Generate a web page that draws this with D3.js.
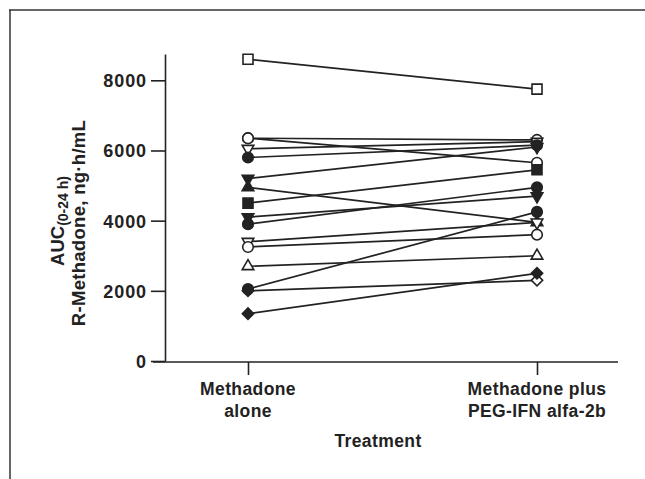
<!DOCTYPE html>
<html>
<head>
<meta charset="utf-8">
<script src="https://cdn.jsdelivr.net/npm/d3@7"></script>
<style>
  html, body { margin: 0; padding: 0; background: #fff; }
  svg { display: block; }
  text { font-family: "Liberation Sans", Arial, Helvetica, sans-serif; font-weight: bold; fill: #222; }
</style>
</head>
<body>
<svg id="chart" width="645" height="479"></svg>
<script>
// ---- data ----
const categories = ["Methadone alone", "Methadone plus PEG-IFN alfa-2b"];
const categoryLines = [["Methadone", "alone"], ["Methadone plus", "PEG-IFN alfa-2b"]];
const subjectSymbols = ["square", "circle", "circle", "triangleDown", "circle", "triangleDown", "triangleUp", "square", "triangleDown", "circle", "triangleDown", "circle", "triangleUp", "diamond", "circle", "diamond"];
const subjectFilled =  [false,    false,    false,    false,          true,     true,           true,         true,     true,           true,     false,          false,    false,        false,     true,     true];
const aloneValues =    [8600,     6350,     6350,     6050,           5800,     5200,           4950,         4500,     4100,           3900,     3400,           3250,     2700,         2000,      2050,     1350];
const pegValues =      [7750,     6300,     5650,     6250,           6150,     6100,           3950,         5450,     4700,           4950,     3950,           3600,     3000,         2300,      4250,     2500];
const yTicks = [0, 2000, 4000, 6000, 8000];
const xTitle = "Treatment";

// ---- drawing ----
const svg = d3.select("#chart");
const ink = "#222";

// frame (top and left edges)
svg.append("line").attr("x1", 9).attr("x2", 645).attr("y1", 10).attr("y2", 10)
  .attr("stroke", "#333").attr("stroke-width", 1.5);
svg.append("line").attr("x1", 10).attr("x2", 10).attr("y1", 10).attr("y2", 479)
  .attr("stroke", "#333").attr("stroke-width", 1.5);

const y = d3.scaleLinear().domain([0, 8750]).range([361, 54]);
const x = d3.scalePoint().domain(categories).range([248, 537]);

// y axis
const yAxis = d3.axisLeft(y).tickValues(yTicks).tickFormat(d3.format("d"))
  .tickSize(14).tickPadding(4).tickSizeOuter(0);
const gy = svg.append("g").attr("transform", "translate(165,0)").call(yAxis);
gy.select(".domain").attr("stroke", ink).attr("stroke-width", 1.6);
gy.selectAll(".tick line").attr("stroke", ink).attr("stroke-width", 1.6);
gy.selectAll(".tick text").attr("font-size", 18).attr("letter-spacing", 0.9).attr("dy", "0.36em")
  .attr("font-family", "Liberation Sans, Arial, sans-serif").attr("font-weight", "bold").attr("fill", ink);

// x axis
const xAxis = d3.axisBottom(x).tickSize(13).tickFormat(() => "").tickSizeOuter(0);
const gx = svg.append("g").attr("transform", "translate(0,362)").call(xAxis);
gx.select(".domain").remove();
gx.selectAll(".tick line").attr("stroke", ink).attr("stroke-width", 1.6);
gx.append("line").attr("x1", 153).attr("x2", 618).attr("y1", 0).attr("y2", 0)
  .attr("stroke", ink).attr("stroke-width", 1.6);

// category labels
categories.forEach((c, i) => {
  const t = svg.append("text").attr("x", x(c)).attr("text-anchor", "middle")
    .attr("font-size", 17.5).attr("letter-spacing", 0.4);
  categoryLines[i].forEach((ln, j) => {
    t.append("tspan").attr("x", x(c)).attr("y", 395 + j * 21.5).text(ln);
  });
});

// axis titles
svg.append("text").attr("x", 378).attr("y", 447).attr("text-anchor", "middle")
  .attr("font-size", 17.5).attr("letter-spacing", 0.4).text(xTitle);

const yl1 = svg.append("text").attr("transform", "translate(64,221) rotate(-90)")
  .attr("text-anchor", "middle").attr("font-size", 18.5);
yl1.append("tspan").text("AUC");
yl1.append("tspan").attr("font-size", 14).attr("dy", 4).text("(0-24 h)");

svg.append("text").attr("transform", "translate(85,223) rotate(-90)")
  .attr("text-anchor", "middle").attr("font-size", 18.5).attr("letter-spacing", 0.3)
  .text("R-Methadone, ng\u00b7h/mL");

// subjects
const subjects = aloneValues.map((v, i) => ({
  sym: subjectSymbols[i], filled: subjectFilled[i], a: v, b: pegValues[i]
}));

const lineG = svg.append("g");
subjects.forEach(d => {
  lineG.append("line")
    .attr("x1", x(categories[0])).attr("y1", y(d.a))
    .attr("x2", x(categories[1])).attr("y2", y(d.b))
    .attr("stroke", ink).attr("stroke-width", 1.7);
});

function symbolPath(sym) {
  if (sym === "circle") return d3.symbol().type(d3.symbolCircle).size(88)();
  if (sym === "square") return d3.symbol().type(d3.symbolSquare).size(100)();
  if (sym === "diamond") return d3.symbol().type(d3.symbolSquare).size(64)();
  return d3.symbol().type(d3.symbolTriangle).size(58)();
}
function symbolRot(sym) {
  if (sym === "triangleDown") return 180;
  if (sym === "diamond") return 45;
  return 0;
}

const markG = svg.append("g");
subjects.forEach(d => {
  [[categories[0], d.a], [categories[1], d.b]].forEach(([c, v]) => {
    markG.append("path")
      .attr("d", symbolPath(d.sym))
      .attr("transform", `translate(${x(c)},${y(v)}) rotate(${symbolRot(d.sym)})`)
      .attr("fill", d.filled ? ink : "#fff")
      .attr("stroke", ink).attr("stroke-width", 1.6);
  });
});
</script>
</body>
</html>
